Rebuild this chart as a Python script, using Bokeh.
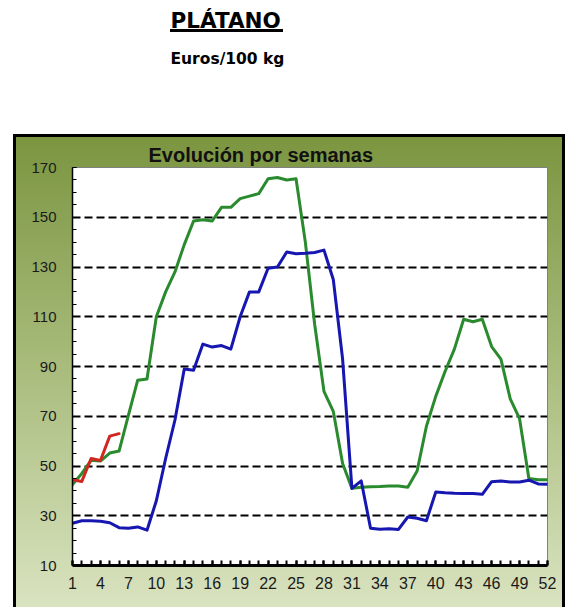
from bokeh.plotting import figure
from bokeh.models import FixedTicker, Title
from bokeh.embed import file_html
from bokeh.resources import INLINE

weeks = list(range(1, 53))
x_tick_labels = list(range(1, 53, 3))
y_tick_values = list(range(10, 171, 20))

precios_verde = [42.5, 47, 52.3, 52, 55.2, 56, 70.4, 84.5, 85, 110,
                 120, 128, 139, 148.5, 149, 148.5, 154, 154, 157.5, 158.5,
                 159.5, 165.5, 166, 165, 165.5, 140, 107, 80, 72, 51,
                 41, 41.5, 41.7, 41.8, 42, 42, 41.5, 48, 66, 78,
                 88, 97, 109, 108, 109, 98, 93, 77, 69, 45,
                 44.5, 44.5]
precios_azul = [27, 28, 28, 27.8, 27.2, 25.2, 25, 25.5, 24.2, 36,
                53, 68.5, 89, 88.5, 99, 97.8, 98.4, 97, 110, 120,
                120, 129.5, 130, 136, 135.3, 135.5, 135.8, 136.8, 125, 93,
                41, 44, 25, 24.6, 24.8, 24.5, 29.5, 29, 28, 39.5,
                39.2, 39, 38.9, 38.9, 38.6, 43.7, 44, 43.6, 43.6, 44.3,
                42.8, 42.7]
semanas_rojo = [1, 2, 3, 4, 5, 6]
precios_rojo = [44.5, 43.8, 53, 52.2, 62, 63]

W, H = 580, 607

bg_styles = {
    "background-color": "white",
    "background-image": ("linear-gradient(#000, #000), "
                         "linear-gradient(to bottom, #7b9540 0%, #a5b977 45%, #d9e3c0 100%), "
                         "linear-gradient(#000, #000)"),
    "background-size": "113px 3px, 546px 470px, 552px 480px",
    "background-position": "170px 29px, 16px 137px, 13px 134px",
    "background-repeat": "no-repeat",
}

p = figure(width=W, height=H, x_range=(1, 52), y_range=(10, 170),
           output_backend="svg", toolbar_location=None,
           min_border_left=72, min_border_right=33,
           min_border_top=100, min_border_bottom=42,
           border_fill_color=None, background_fill_color="white",
           styles=bg_styles)

p.outline_line_color = "#808080"
p.outline_line_width = 1

# y axis
p.yaxis.ticker = FixedTicker(ticks=y_tick_values, minor_ticks=list(range(10, 171, 5)))
p.yaxis.major_tick_in = 4
p.yaxis.major_tick_out = 0
p.yaxis.minor_tick_in = 4
p.yaxis.minor_tick_out = 0
p.yaxis.axis_line_width = 1.5
p.yaxis.axis_line_color = "black"
p.yaxis.major_label_standoff = 16
p.yaxis.major_label_text_font = "Liberation Sans"
p.yaxis.major_label_text_font_size = "15px"
p.yaxis.major_label_text_color = "#1a1a1a"

# x axis
p.xaxis.ticker = FixedTicker(ticks=x_tick_labels, minor_ticks=weeks)
p.xaxis.major_tick_in = 5
p.xaxis.major_tick_out = 0
p.xaxis.minor_tick_in = 5
p.xaxis.minor_tick_out = 0
p.xaxis.major_tick_line_width = 2
p.xaxis.minor_tick_line_width = 2
p.xaxis.axis_line_width = 3
p.xaxis.axis_line_color = "black"
p.xaxis.major_label_standoff = 11
p.xaxis.major_label_text_font = "Liberation Sans"
p.xaxis.major_label_text_font_size = "16px"
p.xaxis.major_label_text_color = "#1a1a1a"

p.xgrid.visible = False
p.ygrid.ticker = FixedTicker(ticks=list(range(30, 151, 20)))
p.ygrid.grid_line_color = "black"
p.ygrid.grid_line_width = 2
p.ygrid.grid_line_dash = "8 4"

p.line(weeks, precios_verde, line_color="#2a8a2e", line_width=3,
       line_join="round", line_cap="round")
p.line(weeks, precios_azul, line_color="#1616b0", line_width=3,
       line_join="round", line_cap="round")
p.line(semanas_rojo, precios_rojo, line_color="#d0281e", line_width=3,
       line_join="round", line_cap="round")

# titles stacked above the frame (first added = nearest the frame)
t_evol = Title(text="Evolución por semanas", align="left", offset=76,
               text_font="Liberation Sans", text_font_style="bold",
               text_font_size="20px", text_color="#111111",
               standoff=4, vertical_align="bottom")
t_space = Title(text=" ", text_font_size="52px", standoff=1)
t_euros = Title(text="Euros/100 kg", align="left", offset=98,
                text_font="DejaVu Sans", text_font_style="bold",
                text_font_size="15.5px", text_color="black",
                standoff=21, vertical_align="bottom")
t_plat = Title(text="PLÁTANO", align="left", offset=98,
               text_font="DejaVu Sans", text_font_style="bold",
               text_font_size="21.5px", text_color="black",
               standoff=10, vertical_align="bottom")
p.add_layout(t_evol, "above")
p.add_layout(t_space, "above")
p.add_layout(t_euros, "above")
p.add_layout(t_plat, "above")

open("out.html", "w").write(file_html(p, INLINE))
